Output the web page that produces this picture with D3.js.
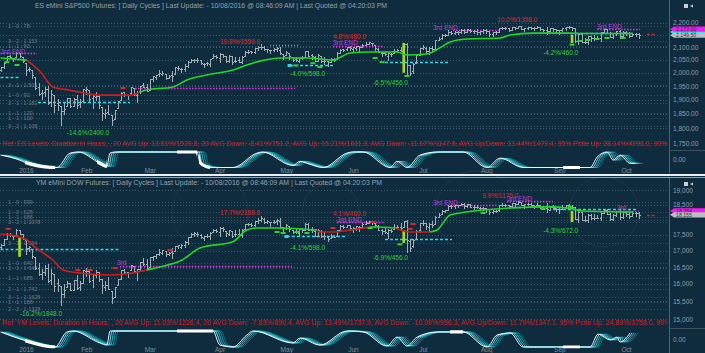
<!DOCTYPE html>
<html>
<head>
<meta charset="utf-8">
<script src="https://cdn.jsdelivr.net/npm/d3@7"></script>
<style>
  body { margin: 0; background: #0f2c3f; }
  svg { display: block; font-family: "Liberation Sans", Arial, sans-serif; }
</style>
</head>
<body>
<div id="chart"></div>
<script>
// ---------- shared x categories (trading day index, 0 = Dec 21 2015) ----------
const monthTicks = [[8, "2016"], [27, "Feb"], [47, "Mar"], [69, "Apr"], [90, "May"], [111, "Jun"], [133, "Jul"], [153, "Aug"], [176, "Sep"], [197, "Oct"]];

// ---------- ES eMini S&P500 : daily bars [open, high, low, close] ----------
const esBars = [
  // Dec
  [2010,2022,2005,2021],[2023,2042,2020,2038],[2042,2064,2042,2064],[2063,2067,2058,2060],[2057,2057,2044,2056],[2061,2081,2061,2078],[2077,2077,2061,2063],[2061,2062,2043,2044],
  // Jan
  [2038,2038,1990,2012],[2013,2021,2005,2016],[2011,2011,1979,1990],[1985,1985,1938,1943],[1945,1960,1918,1922],[1926,1934,1901,1923],[1927,1947,1914,1938],[1940,1950,1886,1890],[1892,1934,1878,1921],[1916,1916,1857,1880],
  [1888,1901,1864,1881],[1877,1877,1812,1859],[1861,1889,1848,1868],[1877,1908,1877,1906],[1906,1907,1875,1877],[1878,1906,1878,1903],[1902,1917,1872,1882],[1885,1902,1873,1893],[1895,1940,1895,1940],
  // Feb
  [1937,1947,1921,1939],[1936,1936,1897,1903],[1908,1918,1872,1912],[1911,1927,1900,1915],[1913,1913,1872,1880],[1874,1874,1828,1853],[1848,1868,1834,1852],[1858,1881,1850,1851],[1847,1847,1810,1829],[1833,1864,1833,1864],
  [1872,1895,1872,1895],[1898,1930,1898,1926],[1928,1930,1915,1917],[1916,1918,1902,1917],[1925,1946,1925,1945],[1942,1942,1919,1921],[1917,1932,1891,1929],[1931,1951,1925,1951],[1955,1962,1946,1948],[1947,1958,1932,1932],
  // Mar
  [1937,1978,1937,1978],[1976,1986,1969,1986],[1985,1993,1977,1993],[1994,2009,1987,1999],[1996,2008,1993,2001],[1997,1997,1978,1979],[1981,1992,1980,1989],[1991,2005,1970,1989],[1995,2022,1995,2022],[2020,2025,2011,2019],[2015,2017,2004,2015],
  [2015,2032,2007,2027],[2026,2046,2023,2040],[2041,2052,2040,2049],[2048,2053,2043,2051],[2048,2056,2041,2049],[2048,2049,2034,2036],[2032,2036,2022,2035],[2037,2042,2031,2037],[2035,2055,2027,2055],[2058,2072,2058,2063],[2063,2067,2058,2060],
  // Apr
  [2057,2075,2043,2073],[2073,2074,2062,2066],[2063,2063,2043,2045],[2046,2067,2043,2066],[2063,2063,2034,2041],[2045,2060,2041,2047],[2051,2062,2040,2041],[2043,2065,2036,2062],[2065,2084,2065,2082],[2082,2087,2078,2082],[2083,2084,2076,2080],
  [2079,2095,2078,2095],[2097,2104,2088,2100],[2100,2111,2093,2102],[2102,2103,2088,2091],[2092,2094,2081,2091],[2089,2089,2077,2088],[2089,2096,2085,2091],[2093,2099,2083,2095],[2090,2099,2071,2076],[2071,2073,2054,2065],
  // May
  [2068,2084,2067,2081],[2077,2077,2054,2063],[2060,2060,2045,2051],[2053,2060,2045,2051],[2047,2058,2040,2057],[2057,2064,2054,2059],[2062,2084,2062,2084],[2083,2083,2064,2064],[2067,2073,2054,2064],[2062,2066,2045,2047],[2046,2072,2046,2067],
  [2065,2065,2041,2047],[2045,2060,2034,2047],[2044,2044,2025,2040],[2041,2059,2041,2052],[2053,2056,2047,2048],[2052,2079,2052,2076],[2078,2094,2078,2090],[2091,2092,2086,2090],[2091,2099,2089,2099],[2100,2103,2089,2097],
  // Jun
  [2094,2100,2086,2099],[2097,2105,2089,2105],[2104,2105,2085,2099],[2100,2114,2100,2110],[2110,2120,2110,2112],[2112,2120,2112,2119],[2115,2117,2107,2115],[2109,2109,2089,2096],[2092,2096,2079,2079],[2077,2081,2065,2075],[2077,2086,2069,2071],
  [2066,2079,2050,2077],[2074,2075,2064,2071],[2076,2094,2076,2083],[2085,2093,2083,2089],[2089,2100,2085,2086],[2092,2113,2092,2113],[2111,2117,1991,2030],[2028,2030,1991,2000],[2005,2037,2000,2035],[2037,2073,2037,2068],[2070,2098,2068,2096],
  // Jul
  [2096,2108,2092,2100],[2098,2099,2077,2086],[2083,2099,2073,2097],[2096,2106,2085,2094],[2094,2130,2091,2127],[2128,2140,2127,2134],[2135,2152,2134,2149],[2149,2153,2143,2149],[2150,2168,2149,2160],[2160,2165,2152,2158],
  [2157,2165,2154,2163],[2162,2164,2153,2160],[2160,2172,2158,2170],[2169,2172,2157,2162],[2162,2173,2160,2172],[2171,2172,2161,2165],[2165,2170,2156,2165],[2165,2172,2155,2163],[2162,2167,2154,2166],[2165,2173,2157,2170],
  // Aug
  [2170,2174,2157,2167],[2166,2167,2145,2153],[2152,2162,2147,2161],[2160,2165,2155,2161],[2161,2180,2160,2180],[2179,2182,2174,2177],[2177,2182,2175,2179],[2179,2180,2166,2171],[2171,2183,2170,2182],[2182,2183,2174,2180],[2180,2187,2179,2186],[2185,2186,2173,2175],
  [2175,2180,2166,2179],[2178,2184,2175,2183],[2183,2183,2173,2180],[2180,2182,2170,2178],[2178,2187,2177,2182],[2182,2183,2168,2172],[2172,2175,2165,2169],[2169,2183,2155,2166],[2165,2178,2164,2177],[2177,2180,2167,2173],[2173,2174,2160,2168],
  // Sep
  [2168,2170,2155,2168],[2168,2180,2166,2177],[2177,2184,2168,2183],[2183,2185,2176,2182],[2182,2183,2170,2176],[2176,2177,2122,2124],[2123,2158,2114,2155],[2155,2156,2119,2122],[2122,2135,2115,2120],[2120,2146,2114,2143],[2143,2145,2126,2135],
  [2135,2150,2130,2136],[2136,2145,2131,2136],[2136,2162,2124,2160],[2160,2173,2158,2172],[2172,2173,2157,2159],[2159,2160,2139,2141],[2141,2158,2135,2156],[2156,2167,2148,2166],[2166,2168,2138,2146],[2146,2167,2145,2163],
  // Oct
  [2163,2164,2150,2156],[2156,2163,2139,2145],[2145,2159,2144,2155],[2155,2157,2144,2155],[2155,2158,2137,2149]
];

// trend line knots [day index, price, state]
const esTrend = [
  [0,2057,"g"],[8.3,2049,"g"],[8.7,2045,"r"],[10.2,2030,"r"],[12.4,2006,"r"],[16.5,1947,"r"],[21.9,1935,"r"],[31.3,1917,"r"],[40.8,1917,"r"],[43.9,1927,"r"],
  [45.5,1935,"g"],[54.3,1947,"g"],[58.7,1973,"g"],[65,1992,"g"],[73.2,2011,"g"],[77.6,2030,"g"],[81.7,2045,"g"],[89,2057,"g"],[96.5,2057,"g"],[104.7,2049,"g"],
  [110.1,2077,"g"],[116.4,2081,"g"],[124.9,2081,"g"],[128,2069,"g"],[134.3,2073,"g"],[138.4,2097,"g"],[141.6,2121,"g"],[146.9,2133,"g"],[157.3,2137,"g"],
  [160.5,2149,"g"],[167.7,2157,"g"],[178.4,2157,"g"],[183.5,2155,"g"],[199.2,2155,"g"]
];

// cycle oscillator knots [day index, value -1..1]
const esOsc = [
  [0,0.6],[6.1,-0.06],[7.7,-0.34],[17.2,-1],[17.8,-1],[21.9,0.86],[24.4,1],[31.3,-0.46],[33.5,-0.86],[34.5,0.86],[36.1,1],[61.9,1],[62.8,-0.34],[64.7,-0.86],
  [67,-1],[73.2,-1],[80.8,0.86],[82.4,1],[92.1,-0.74],[94.3,-0.2],[96.5,-0.46],[101.6,-1],[109.1,0.86],[110.7,1],[114.2,1],[122.7,-1],[124.9,-0.2],[128,-1],
  [132.1,0.6],[137.5,1],[145.7,1],[153.2,-1],[157.3,0.2],[164.6,-1],[185.7,-1],[187.9,0.34],[191,1],[193,-0.06],[195.1,0.6],[198.3,-0.46],[199.8,-0.46]
];
const esOscThick = [[7.7,17.2],[30.4,33.5],[55.6,61.9],[62.5,66],[177.2,182.5]];

// level lines [from, to, price, style]
const esLevels = [
  [0,11.5,2077,"m"],[0,6.1,1984,"c"],[11.8,40.8,1892,"c"],[42.4,92.8,1943,"m"],[84.9,94.3,2109,"g"],[91.2,104.7,2030,"c"],
  [104.7,120.5,2105,"m"],[121.1,141.6,2041,"c"],[142.5,157.3,2170,"m"],[179.4,199.2,2157,"c"],[187.9,201.4,2174,"m"],[203.6,206.1,2153,"r"]
];
// annotations [day index, price, text, colour]
const esNotes = [
  [69.1,2121,"10.8%/1558.0","r"],[91.2,1996,"-4.0%/598.0","g"],[104.7,2141,"4.8%/480.0","r"],[104.7,2117,"3rd END","p"],
  [136.2,2178,"3rd END","p"],[156.4,2211,"10.0%/1358.0","r"],[187.9,2182,"3rd END","p"],[117.3,1962,"-6.5%/456.0","g"],
  [170.9,2077,"-4.2%/460.0","g"],[20.9,1784,"-14.6%/2400.0","g"],[0,2081,"3rd END","p"]
];
// swing markers [day index, price, colour]
const esMarks = [
  [2,2041,"g"],[5.2,2030,"g"],[91.2,2030,"c"],[93,2028,"g"],[98.4,2037,"g"],[100.6,2022,"g"],[118,2057,"g"],[120.2,2041,"g"],[128,1988,"g"],
  [180,2110,"g"],[182.5,2125,"g"],[185,2129,"g"],[187.9,2133,"g"],[191,2137,"g"],[196.1,2137,"g"],[38.6,1943,"r"]
];
// highlighted signal bars [day index, top, bottom]
const esLime = [[127,2117,2000],[180,2150,2117]];
// left side levels [price, label]
const esSide = [[2186,"1 - 0 : 78"],[2125,"3 - 2 : 1 153"],[2105,"1 - 1 : 93"],[1954,"3 - 1 : 1 502"],[1917,"1 - 0 : 92"],[1888,"3 - 1 : 1 181"],[1853,"1 - 1 : 120"],[1835,"1 - 1 : 100"],[1807,"3 - 2 : 1 108"]];
const esTicks = [2200,2150,2100,2050,2000,1950,1900,1850,1800,1750];
const esTickLabels = [2200,2100,2050,2000,1950,1900,1850,1800,1750];
const esTags = [[2161,"2,161.50","#2ee6f0"],[2173,"2,173.00","#f01cf0"],[2148,"2,149.50","#b9bec2"]];
const esTitle = "ES eMini S&P500 Futures: [ Daily Cycles ] Last Update:  - 10/08/2016 @ 08:46:09 AM | Last Quoted @ 04:20:03 PM";
const esRef = "Ref: ES Levels: Duration in Hours, , 20 AVG Up: 13.61%/1520.8, 20 AVG Down: -8.41%/751.2, AVG Up: 15.21%/1611.3, AVG Down: -11.67%/1147.6, AVG Up/Down: 13.44%/1479.4, 95% Pctle Up: 28.14%/4296.0, 90%";

// ---------- YM eMini DOW : daily bars [open, high, low, close] ----------
const ymBars = [
  // Dec
  [17100,17210,17060,17190],[17190,17370,17180,17355],[17360,17545,17360,17540],[17540,17550,17480,17490],[17480,17490,17370,17465],[17470,17680,17470,17660],[17660,17665,17530,17540],[17530,17540,17360,17365],
  // Jan
  [17340,17340,16890,17090],[17090,17160,16980,17100],[17060,17060,16780,16845],[16820,16820,16440,16455],[16460,16630,16250,16285],[16300,16430,16150,16340],[16360,16560,16260,16455],[16480,16580,16040,16090],[16100,16450,15980,16320],[16290,16290,15780,15930],
  [16030,16130,15800,15955],[15930,15930,15390,15705],[15710,15980,15610,15820],[15900,16090,15900,16035],[16030,16030,15820,15825],[15830,16110,15830,16105],[16110,16250,15840,15885],[15900,16080,15830,16010],[16030,16410,16030,16405],
  // Feb
  [16380,16460,16220,16390],[16370,16370,16040,16095],[16100,16290,15900,16275],[16270,16400,16190,16355],[16350,16350,16080,16145],[16130,16130,15740,15965],[15920,16070,15820,15955],[15970,16200,15850,15855],[15800,15800,15440,15600],[15620,15920,15620,15915],
  [15960,16140,15960,16135],[16150,16400,16150,16395],[16400,16440,16320,16355],[16340,16350,16200,16330],[16400,16570,16400,16560],[16540,16540,16360,16370],[16340,16430,16100,16425],[16430,16640,16400,16640],[16660,16760,16560,16580],[16580,16740,16450,16455],
  // Mar
  [16490,16810,16490,16805],[16800,16840,16710,16840],[16830,16890,16770,16885],[16890,17040,16860,16945],[16920,17030,16890,17015],[17000,17000,16840,16905],[16910,16960,16880,16940],[16950,17090,16760,16935],[17000,17160,17000,17155],[17150,17190,17090,17170],[17130,17200,17090,17190],
  [17180,17300,17120,17265],[17260,17440,17210,17420],[17420,17560,17420,17540],[17530,17580,17480,17565],[17520,17590,17460,17520],[17510,17520,17410,17440],[17400,17460,17340,17455],[17460,17530,17420,17475],[17450,17580,17360,17575],[17600,17700,17600,17655],[17650,17680,17600,17625],
  // Apr
  [17580,17740,17480,17730],[17720,17740,17640,17675],[17640,17640,17480,17545],[17540,17660,17500,17655],[17620,17620,17420,17480],[17520,17660,17460,17515],[17540,17700,17490,17495],[17500,17680,17420,17660],[17680,17850,17680,17845],[17840,17890,17810,17865],[17860,17870,17790,17835],
  [17820,17960,17800,17945],[17960,18050,17900,17995],[18000,18110,17950,18035],[18030,18050,17900,17920],[17910,17970,17870,17945],[17930,17930,17800,17915],[17920,17990,17890,17930],[17940,18010,17850,17980],[17950,18060,17740,17770],[17740,17760,17590,17710],
  // May
  [17720,17850,17700,17830],[17780,17780,17620,17690],[17660,17660,17550,17590],[17600,17680,17560,17600],[17560,17700,17510,17680],[17680,17730,17600,17645],[17660,17880,17660,17865],[17860,17880,17650,17650],[17660,17760,17580,17660],[17640,17680,17460,17475],[17470,17700,17470,17650],
  [17640,17660,17430,17470],[17460,17580,17380,17465],[17440,17440,17290,17375],[17390,17540,17390,17440],[17450,17510,17420,17430],[17450,17670,17450,17645],[17660,17830,17660,17790],[17790,17810,17730,17770],[17770,17820,17740,17810],[17820,17830,17650,17725],
  // Jun
  [17700,17760,17600,17730],[17720,17780,17650,17775],[17770,17790,17620,17745],[17760,17880,17740,17860],[17860,17940,17850,17880],[17880,17960,17870,17945],[17930,17950,17850,17925],[17880,17880,17740,17805],[17790,17810,17660,17670],[17660,17680,17540,17615],[17620,17720,17560,17580],
  [17560,17690,17410,17670],[17660,17680,17580,17615],[17680,17860,17680,17745],[17750,17820,17720,17770],[17770,17870,17700,17720],[17760,17950,17760,17950],[17950,17990,16960,17340],[17320,17330,16980,17080],[17140,17360,17100,17350],[17370,17650,17370,17635],[17660,17880,17600,17870],
  // Jul
  [17870,17970,17810,17890],[17880,17890,17700,17780],[17750,17870,17640,17860],[17860,17960,17760,17835],[17850,18110,17850,18085],[18090,18210,18080,18165],[18180,18320,18170,18285],[18290,18330,18260,18310],[18330,18470,18320,18445],[18440,18480,18380,18455],
  [18450,18480,18400,18475],[18470,18500,18420,18500],[18500,18560,18470,18535],[18530,18560,18400,18455],[18450,18520,18430,18510],[18510,18520,18420,18430],[18430,18470,18350,18410],[18410,18500,18370,18410],[18400,18430,18340,18395],[18390,18420,18300,18370],
  // Aug
  [18370,18400,18250,18345],[18340,18350,18180,18255],[18250,18310,18200,18295],[18290,18330,18250,18290],[18300,18500,18290,18480],[18480,18540,18450,18470],[18470,18530,18440,18475],[18470,18490,18380,18435],[18440,18560,18430,18555],[18550,18560,18460,18515],[18520,18610,18510,18575],[18570,18580,18470,18490],
  [18490,18530,18380,18510],[18510,18550,18480,18535],[18530,18540,18440,18490],[18490,18500,18380,18465],[18470,18560,18460,18485],[18480,18490,18380,18420],[18420,18440,18340,18385],[18380,18550,18240,18335],[18330,18460,18320,18440],[18440,18470,18350,18390],[18390,18400,18280,18340],
  // Sep
  [18340,18370,18230,18355],[18360,18480,18350,18430],[18430,18500,18380,18475],[18470,18510,18410,18460],[18460,18470,18340,18415],[18410,18420,18020,18020],[18010,18300,17930,18260],[18250,18260,17980,18000],[18000,18100,17940,17970],[17970,18180,17930,18150],[18150,18170,18010,18060],
  [18060,18190,18020,18055],[18060,18140,18040,18065],[18060,18260,17990,18230],[18230,18340,18220,18330],[18330,18340,18170,18195],[18190,18200,18000,18030],[18030,18170,17980,18165],[18160,18290,18110,18275],[18270,18300,18030,18080],[18080,18270,18060,18245],
  // Oct
  [18240,18250,18130,18190],[18190,18250,18050,18105],[18100,18240,18100,18220],[18220,18240,18130,18205],[18200,18240,18040,18155]
];

const ymTrend = [
  [0,17530,"r"],[3,17500,"r"],[8.3,17336,"r"],[10.2,17170,"r"],[13.4,16930,"r"],[16.5,16713,"r"],[19.7,16409,"r"],[25,16319,"r"],[34.5,16259,"r"],[41.7,16319,"r"],[46.1,16409,"r"],
  [50.2,16500,"g"],[57.2,16713,"g"],[62.8,17085,"g"],[73.2,17280,"g"],[77.6,17657,"g"],[80.8,17722,"g"],[87.1,17722,"g"],[99.7,17657,"g"],
  [100.6,17593,"r"],[104.7,17593,"r"],[110.1,17657,"r"],[116.4,17754,"r"],[118,17754,"g"],[124.3,17722,"g"],[129,17593,"r"],[135.3,17593,"r"],
  [137.5,17657,"g"],[141.6,18149,"g"],[144.7,18215,"g"],[152,18317,"g"],[160.5,18386,"g"],[173.1,18420,"g"],[178.4,18386,"g"],[183.5,18283,"g"],[199.2,18250,"g"]
];
const ymOsc = [
  [0,0.88],[7.1,-0.12],[17.2,-1],[20.9,0.88],[22.8,1],[31.3,-0.5],[33.5,-0.76],[34.5,1],[66.9,1],[69.1,-0.76],[73.2,-1],[77.6,0.5],[79.5,1],[92.1,-0.5],
  [94.3,0.12],[100.6,-0.76],[109.1,1],[114.2,0.88],[121.7,-0.88],[124.9,0.24],[128,-0.88],[131.2,0.24],[137.5,0.88],[145.7,0.88],[153.2,-1],[156.4,0.5],
  [160.5,0.76],[164.6,-1],[185.7,-1],[188.2,0.62],[192,-0.12],[194.2,0.24],[195.1,-0.38],[198.3,0.76]
];
const ymOscThick = [[7.7,17.2],[55.6,66.9],[141.6,145.7],[177.2,182.5]];
const ymLevels = [
  [0,37.6,17053,"c"],[37.6,91.8,16530,"m"],[90.2,109.1,17464,"c"],[106,121.1,17916,"m"],[141.6,156.4,18488,"m"],[159.5,174,18624,"m"],
  [161.4,164.6,18420,"c"],[174,200.5,18350,"c"],[194.2,201.1,18283,"m"],[121.1,142.2,17367,"c"],[203.6,206.1,18149,"r"]
];
const ymNotes = [
  [69.1,18215,"17.7%/2188.0","r"],[91.2,17085,"-4.1%/598.0","g"],[104.7,18182,"4.1%/480.0","r"],[106,17981,"3rd END","p"],
  [136.2,18555,"3rd END","p"],[151.7,18792,"9.9%/1175.0","r"],[159.5,18690,"3rd END","p"],[194.2,18380,"3rd","p"],
  [117.3,16773,"-6.9%/456.0","g"],[170.9,17625,"-4.3%/672.0","g"],[6.1,15150,"-16.2%/1848.0","g"],[36.7,16620,"3rd","p"]
];
const ymMarks = [
  [2.4,17694,"r"],[24.4,16409,"r"],[28.2,16409,"r"],[36.1,16470,"r"],[53.4,17020,"r"],[104.7,17722,"r"],[117.3,17916,"r"],[129.9,17851,"r"],[129,17690,"r"],
  [87.1,17593,"g"],[89,17561,"g"],[93.4,17593,"g"],[96.5,17561,"g"],[90.2,17464,"c"],[116.4,17722,"g"],[125.8,17200,"g"],[152,18215,"g"],[170.9,18350,"g"],[174,18420,"g"],[179.4,18420,"g"]
];
const ymLime = [[6,17400,16810],[127,17657,17241],[180,18283,17916]];
const ymSide = [[18587,"1 - 0 : 599"],[18249,"1 - 0 : 528"],[18083,"1 - 1 : 688"],[17916,"3 - 2 : 1 1078"],[17242,"3 - 1 : 1 564"],[16621,"1 - 0 : 640"],[16469,"2 - 1 : 1 648"],[16170,"1 - 1 : 685"],[15848,"2 - 1 : 1 742"],[15617,"3 - 1 : 1 1628"],[15475,"1 - 1 : 188"],[15280,"2 - 2 : 1 1328"]];
const ymTicks = [19000,18500,18000,17500,17000,16500,16000,15500,15000];
const ymTickLabels = [19000,18500,17500,17000,16500,16000,15500,15000];
const ymTags = [[18284,"18,284","#f01cf0"],[18155,"18,155","#b9bec2"]];
const ymTitle = "YM eMini DOW Futures: [ Daily Cycles ] Last Update:  - 10/08/2016 @ 08:46:09 AM | Last Quoted @ 04:20:03 PM";
const ymRef = "Ref: YM Levels: Duration in Hours, , 20 AVG Up: 11.03%/1226.4, 20 AVG Down: -7.83%/890.4, AVG Up: 13.49%/1737.9, AVG Down: -10.09%/956.3, AVG Up/Down: 11.79%/1347.1, 95% Pctle Up: 24.89%/3758.0, 90% I";

// faint cycle rings [centre day index, radius in days]
const rings = [[66, 12], [150, 13], [190, 11], [104, 9]];

// ---------- layout ----------
const width = 705, height = 353;
const plotRight = 668;
const x = d3.scaleLinear().domain([0, 201]).range([0.5, 638.7]);
const px = (i) => Math.round(x(i)) + 0.5;

const colors = { r: "#e02424", g: "#2fd42f", p: "#b540dc", c: "#2fd6e6" };
const levelStyle = {
  m: { stroke: "#e62ee6", dash: "1.5,1.5" },
  c: { stroke: "#2fd6e6", dash: "3,2" },
  g: { stroke: "#8a9aa4", dash: "1,2" },
  r: { stroke: "#d42020", dash: "3,1.5" }
};

const svg = d3.select("#chart").append("svg").attr("width", width).attr("height", height);
svg.append("rect").attr("width", width).attr("height", height).attr("fill", "#0f2c3f");
const defs = svg.append("defs");

// rings behind everything
svg.append("g").selectAll("circle").data(rings).join("circle")
  .attr("cx", d => x(d[0])).attr("cy", 212).attr("r", d => x(d[1]) - x(0))
  .attr("fill", "none").attr("stroke", "#26414f").attr("stroke-width", 1).attr("opacity", 0.6);

const panels = [
  { key: "es", bars: esBars, trend: esTrend, osc: esOsc, thick: esOscThick, levels: esLevels, notes: esNotes, marks: esMarks,
    lime: esLime, side: esSide, ticks: esTicks, tickLabels: esTickLabels, tags: esTags, title: esTitle, ref: esRef, fmt: d3.format(",.2f"),
    domain: [1750, 2200], range: [143, 22.7], top: 0, bottom: 173, divY: 150, oscRange: [167.5, 152],
    titleY: 8, titleX: 35, titleLen: 352, refY: 145.5, refLen: 665, monthY: 168.5 },
  { key: "ym", bars: ymBars, trend: ymTrend, osc: ymOsc, thick: ymOscThick, levels: ymLevels, notes: ymNotes, marks: ymMarks,
    lime: ymLime, side: ymSide, ticks: ymTicks, tickLabels: ymTickLabels, tags: ymTags, title: ymTitle, ref: ymRef, fmt: d3.format(","),
    domain: [15000, 19000], range: [319, 190], top: 178, bottom: 353, divY: 328, oscRange: [347, 331],
    titleY: 184.5, titleX: 36, titleLen: 346, refY: 324.5, refLen: 672, monthY: 347.5 }
];

panels.forEach(drawPanel);

// white separator between the two charts
svg.append("rect").attr("x", 0).attr("y", 174).attr("width", width).attr("height", 2).attr("fill", "#e9eff2");
svg.append("line").attr("x1", 0).attr("x2", width).attr("y1", 177.5).attr("y2", 177.5).attr("stroke", "#8fa2ad");

function drawPanel(p) {
  const y = d3.scaleLog().domain(p.domain).range(p.range);
  const yo = d3.scaleLinear().domain([-1, 1]).range(p.oscRange);
  const g = svg.append("g");

  defs.append("clipPath").attr("id", `price-${p.key}`)
    .append("rect").attr("x", 0).attr("y", p.top).attr("width", plotRight).attr("height", p.divY - p.top);
  defs.append("clipPath").attr("id", `osc-${p.key}`)
    .append("rect").attr("x", 0).attr("y", p.divY).attr("width", plotRight).attr("height", p.oscRange[0] + 1.5 - p.divY);

  // dotted grid at axis ticks
  const grid = g.append("g").attr("clip-path", `url(#price-${p.key})`);
  grid.selectAll("line.grid").data(p.ticks).join("line").attr("class", "grid")
    .attr("x1", 0).attr("x2", plotRight)
    .attr("y1", d => Math.round(y(d)) + 0.5).attr("y2", d => Math.round(y(d)) + 0.5)
    .attr("stroke", "#3f5c6d").attr("stroke-dasharray", "1,2");

  // side levels with their dim labels
  grid.selectAll("line.side").data(p.side).join("line").attr("class", "side")
    .attr("x1", 0).attr("x2", plotRight)
    .attr("y1", d => Math.round(y(d[0])) + 0.5).attr("y2", d => Math.round(y(d[0])) + 0.5)
    .attr("stroke", "#4a6474").attr("stroke-dasharray", "1,2").attr("opacity", 0.7);
  grid.selectAll("text.side").data(p.side).join("text").attr("class", "side")
    .attr("x", 8).attr("y", d => y(d[0])).attr("dy", "0.33em")
    .attr("font-size", 5.5).attr("fill", "#687b88").text(d => d[1]);

  // levels
  g.append("g").attr("clip-path", `url(#price-${p.key})`)
    .selectAll("line").data(p.levels).join("line")
    .attr("x1", d => x(d[0])).attr("x2", d => x(d[1]))
    .attr("y1", d => Math.round(y(d[2])) + 0.5).attr("y2", d => Math.round(y(d[2])) + 0.5)
    .attr("stroke", d => levelStyle[d[3]].stroke).attr("stroke-width", 1.4)
    .attr("stroke-dasharray", d => levelStyle[d[3]].dash);

  // OHLC bars
  g.append("g").attr("clip-path", `url(#price-${p.key})`)
    .attr("stroke", "#a3aeb5").attr("stroke-width", 1).attr("fill", "none").attr("shape-rendering", "crispEdges")
    .selectAll("path").data(p.bars).join("path")
    .attr("d", (d, i) => {
      const xx = px(i);
      const yo1 = Math.round(y(d[0])) + 0.5, yc = Math.round(y(d[3])) + 0.5;
      return `M${xx},${Math.round(y(d[1]))}V${Math.round(y(d[2])) + 1}M${xx - 1.5},${yo1}H${xx}M${xx},${yc}H${xx + 1.5}`;
    });

  // signal bars
  g.append("g").selectAll("rect").data(p.lime).join("rect")
    .attr("x", d => x(d[0]) - 1.3).attr("width", 2.6)
    .attr("y", d => y(d[1])).attr("height", d => y(d[2]) - y(d[1]))
    .attr("fill", "#a9d81e");

  // trend line split into coloured runs
  const runs = [];
  p.trend.forEach((d, k) => {
    if (k === 0 || d[2] !== p.trend[k - 1][2]) runs.push({ c: d[2], pts: k ? [p.trend[k - 1]] : [] });
    runs[runs.length - 1].pts.push(d);
  });
  const trendLine = d3.line().x(d => x(d[0])).y(d => y(d[1])).curve(d3.curveMonotoneX);
  g.append("g").attr("clip-path", `url(#price-${p.key})`)
    .selectAll("path").data(runs).join("path")
    .attr("d", d => trendLine(d.pts)).attr("fill", "none")
    .attr("stroke", d => d.c === "g" ? "#24d624" : "#d41c1c").attr("stroke-width", 1.6);

  // swing markers
  g.append("g").selectAll("rect").data(p.marks).join("rect")
    .attr("x", d => x(d[0]) - 2.5).attr("width", d => d[2] === "c" ? 4 : 5)
    .attr("y", d => y(d[1]) - 1).attr("height", d => d[2] === "c" ? 3 : 2)
    .attr("fill", d => colors[d[2]]);

  // annotations
  g.append("g").selectAll("text").data(p.notes).join("text")
    .attr("x", d => x(d[0])).attr("y", d => y(d[1])).attr("dy", "0.35em")
    .attr("font-size", 6.5).attr("fill", d => colors[d[3]]).text(d => d[2]);

  // oscillator fan
  const oscLine = d3.line().x(d => x(d[0])).y(d => yo(d[1])).curve(d3.curveMonotoneX);
  const og = g.append("g").attr("clip-path", `url(#osc-${p.key})`);
  const fan = [[8, "#0b7480"], [6, "#129aa8"], [4, "#2bb9c6"], [2, "#7fd9e0"], [0, "#e6fbff"]];
  og.selectAll("path.fan").data(fan).join("path").attr("class", "fan")
    .attr("transform", d => `translate(${d[0]},0)`)
    .attr("d", oscLine(p.osc)).attr("fill", "none")
    .attr("stroke", d => d[1]).attr("stroke-width", 1);
  p.thick.forEach((t, k) => {
    const id = `thick-${p.key}-${k}`;
    defs.append("clipPath").attr("id", id).append("rect")
      .attr("x", x(t[0])).attr("width", x(t[1]) - x(t[0])).attr("y", p.divY).attr("height", p.oscRange[0] + 2 - p.divY);
    og.append("path").attr("d", oscLine(p.osc)).attr("clip-path", `url(#${id})`)
      .attr("fill", "none").attr("stroke", "#ffffff").attr("stroke-width", 3.2);
  });

  // right axis column
  g.append("line").attr("x1", 669.5).attr("x2", 669.5).attr("y1", p.top).attr("y2", p.bottom).attr("stroke", "#50646f");
  g.append("line").attr("x1", 669).attr("x2", width).attr("y1", p.divY + 0.5).attr("y2", p.divY + 0.5).attr("stroke", "#3c5160");

  const ax = g.append("g").attr("transform", "translate(670,0)")
    .call(d3.axisRight(y).tickValues(p.tickLabels).tickFormat(p.fmt).tickSize(0).tickPadding(3));
  ax.select(".domain").remove();
  ax.selectAll("text").attr("fill", "#8e9ca6").attr("font-size", 6.5).attr("font-family", "Liberation Sans, Arial, sans-serif");

  const oax = g.append("g").attr("transform", "translate(670,0)")
    .call(d3.axisRight(yo).tickValues([0]).tickFormat(d3.format(".2f")).tickSize(0).tickPadding(3));
  oax.select(".domain").remove();
  oax.selectAll("text").attr("fill", "#8e9ca6").attr("font-size", 6.5).attr("font-family", "Liberation Sans, Arial, sans-serif");

  // price tags
  p.tags.forEach(([v, label, fill]) => {
    const yy = y(v);
    g.append("path").attr("d", `M670,${yy} L674,${yy - 2.6} H705 V${yy + 2.6} H674 Z`).attr("fill", fill);
    g.append("text").attr("x", 676).attr("y", yy).attr("dy", "0.35em")
      .attr("font-size", 5.2).attr("fill", "#30343a").text(label);
  });

  // small toolbar icon
  g.append("rect").attr("x", 684).attr("y", p.top + 4).attr("width", 4).attr("height", 4).attr("fill", "#c6ced3");
  g.append("path").attr("d", `M690,${p.top + 6} l3,-1.5 v3 z`).attr("fill", "#c6ced3");

  // month axis
  const mx = g.append("g").attr("transform", `translate(0,${p.monthY})`)
    .call(d3.axisBottom(x).tickValues(monthTicks.map(d => d[0])).tickFormat((d, k) => monthTicks[k][1]).tickSize(0).tickPadding(0));
  mx.select(".domain").remove();
  mx.selectAll("text").attr("fill", "#7f8f99").attr("font-size", 6.5).attr("font-family", "Liberation Sans, Arial, sans-serif");

  // title and reference line
  g.append("text").attr("x", p.titleX).attr("y", p.titleY).attr("font-size", 7.5)
    .attr("fill", "#93a1aa").attr("textLength", p.titleLen).attr("lengthAdjust", "spacingAndGlyphs").text(p.title);
  defs.append("clipPath").attr("id", `ref-${p.key}`).append("rect")
    .attr("x", 0).attr("y", p.refY - 10).attr("width", plotRight).attr("height", 14);
  g.append("text").attr("clip-path", `url(#ref-${p.key})`).attr("x", 2).attr("y", p.refY).attr("font-size", 7)
    .attr("fill", "#d11f1f").attr("textLength", p.refLen).attr("lengthAdjust", "spacingAndGlyphs").text(p.ref);
}
</script>
</body>
</html>
